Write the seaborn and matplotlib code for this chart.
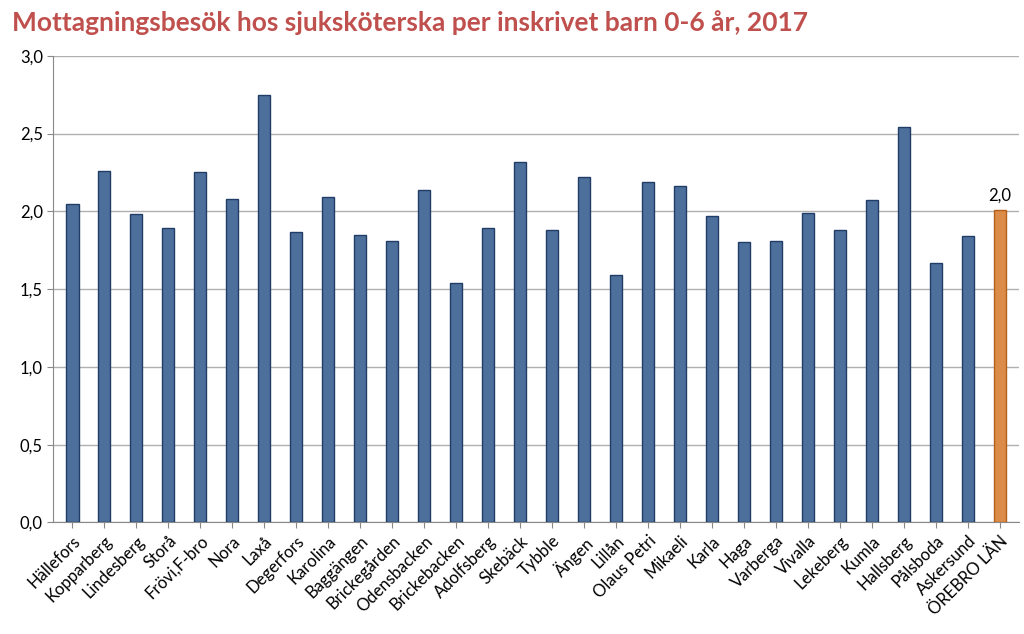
import matplotlib
matplotlib.use("Agg")
import matplotlib.pyplot as plt
import seaborn as sns
import pandas as pd

categories = ["Hällefors","Kopparberg","Lindesberg","Storå","Frövi,F-bro","Nora","Laxå","Degerfors",
              "Karolina","Baggängen","Brickegården","Odensbacken","Brickebacken","Adolfsberg","Skebäck",
              "Tybble","Ängen","Lillån","Olaus Petri","Mikaeli","Karla","Haga","Varberga","Vivalla",
              "Lekeberg","Kumla","Hallsberg","Pålsboda","Askersund","ÖREBRO LÄN"]
values = [2.05,2.26,1.98,1.89,2.25,2.08,2.75,1.87,2.09,1.85,1.81,2.14,1.54,1.89,2.32,
          1.88,2.22,1.59,2.19,2.16,1.97,1.80,1.81,1.99,1.88,2.07,2.54,1.67,1.84,2.01]
yticks = [0,0.5,1.0,1.5,2.0,2.5,3.0]

plt.rcParams["font.family"] = "Lato"
df = pd.DataFrame({"cat": categories, "val": values})
colors = ["#3f6ea8"]*(len(categories)-1) + ["#f28a30"]
edges = ["#1f3d66"]*(len(categories)-1) + ["#b5601a"]

fig, ax = plt.subplots(figsize=(10.24, 6.34), dpi=100)
sns.barplot(data=df, x="cat", y="val", hue="cat", palette=colors, legend=False,
            width=0.38, ax=ax, zorder=3)
for p, e in zip(ax.patches, edges):
    p.set_edgecolor(e); p.set_linewidth(1.0)
ax.set_ylim(0, 3.0)
ax.set_xlim(-0.6, len(categories)-0.4)
ax.set_yticks(yticks)
ax.set_yticklabels([f"{t:.1f}".replace(".", ",") for t in yticks], fontsize=12)
ax.set_xticks(range(len(categories)))
ax.set_xticklabels(categories, rotation=45, ha="right", rotation_mode="anchor", fontsize=12)
ax.yaxis.grid(True, color="#b0b0b0", linewidth=1, zorder=0)
ax.set_axisbelow(True)
ax.set_xlabel(""); ax.set_ylabel("")
for s in ["top","right"]:
    ax.spines[s].set_visible(False)
ax.spines["left"].set_color("#888888")
ax.spines["bottom"].set_color("#888888")
ax.tick_params(axis="x", length=4, color="#888888")
ax.tick_params(axis="y", length=4, color="#888888")
n = len(categories)-1
ax.text(n, values[-1]+0.04, f"{values[-1]:.1f}".replace(".", ","), ha="center", va="bottom", fontsize=12)
fig.text(0.012, 0.965, "Mottagningsbesök hos sjuksköterska per inskrivet barn 0-6 år, 2017",
         color="#c0504d", fontsize=19, fontweight="bold", ha="left", va="center")
fig.subplots_adjust(left=0.052, right=0.995, top=0.912, bottom=0.176)
fig.savefig("out.png", dpi=100)
